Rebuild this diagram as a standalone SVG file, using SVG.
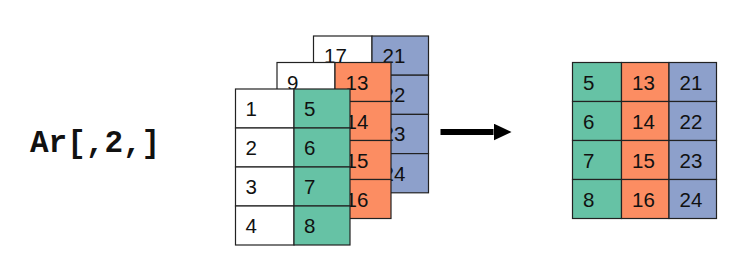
<svg xmlns="http://www.w3.org/2000/svg" width="737" height="256" viewBox="0 0 737 256">
<style>
.c{stroke:#222;stroke-width:1.2}
.w{fill:#ffffff}
.g{fill:#66c2a5}
.o{fill:#fc8d62}
.b{fill:#8da0cb}
.t{font-family:"Liberation Sans",Arial,sans-serif;font-size:20.5px;fill:#111}
.code{font-family:"Liberation Mono","Courier New",monospace;font-size:31px;font-weight:bold;fill:#111}
</style>
<defs>
<marker id="ah" markerUnits="userSpaceOnUse" markerWidth="18" markerHeight="17" refX="0" refY="8.5" orient="auto">
<path d="M0,0 L18,8.5 L0,17 z" fill="#000"/>
</marker>
</defs>
<rect width="737" height="256" fill="#ffffff"/>
<g id="label">
<text class="code" x="30" y="152">Ar[,2,]</text>
</g>
<g id="slice3">
<rect class="c w" x="313.5" y="36" width="58.5" height="39.2"/>
<rect class="c w" x="313.5" y="75.2" width="58.5" height="39.2"/>
<rect class="c w" x="313.5" y="114.4" width="58.5" height="39.2"/>
<rect class="c w" x="313.5" y="153.6" width="58.5" height="39.2"/>
<rect class="c b" x="372" y="36" width="56.5" height="39.2"/>
<rect class="c b" x="372" y="75.2" width="56.5" height="39.2"/>
<rect class="c b" x="372" y="114.4" width="56.5" height="39.2"/>
<rect class="c b" x="372" y="153.6" width="56.5" height="39.2"/>
<text class="t" x="324" y="63">17</text>
<text class="t" x="382.5" y="63">21</text>
<text class="t" x="382.5" y="102.2">22</text>
<text class="t" x="382.5" y="141.4">23</text>
<text class="t" x="382.5" y="180.6">24</text>
</g>
<g id="slice2">
<rect class="c w" x="277" y="62.5" width="58" height="39"/>
<rect class="c w" x="277" y="101.5" width="58" height="39"/>
<rect class="c w" x="277" y="140.5" width="58" height="39"/>
<rect class="c w" x="277" y="179.5" width="58" height="39"/>
<rect class="c o" x="335" y="62.5" width="56" height="39"/>
<rect class="c o" x="335" y="101.5" width="56" height="39"/>
<rect class="c o" x="335" y="140.5" width="56" height="39"/>
<rect class="c o" x="335" y="179.5" width="56" height="39"/>
<text class="t" x="287" y="89.5">9</text>
<text class="t" x="345.5" y="89.5">13</text>
<text class="t" x="345.5" y="128.5">14</text>
<text class="t" x="345.5" y="167.5">15</text>
<text class="t" x="345.5" y="206.5">16</text>
</g>
<g id="slice1">
<rect class="c w" x="235.5" y="89" width="58.5" height="39"/>
<rect class="c w" x="235.5" y="128" width="58.5" height="39"/>
<rect class="c w" x="235.5" y="167" width="58.5" height="39"/>
<rect class="c w" x="235.5" y="206" width="58.5" height="39"/>
<rect class="c g" x="294" y="89" width="56" height="39"/>
<rect class="c g" x="294" y="128" width="56" height="39"/>
<rect class="c g" x="294" y="167" width="56" height="39"/>
<rect class="c g" x="294" y="206" width="56" height="39"/>
<text class="t" x="245.5" y="116">1</text>
<text class="t" x="245.5" y="155">2</text>
<text class="t" x="245.5" y="194">3</text>
<text class="t" x="245.5" y="233">4</text>
<text class="t" x="304" y="116">5</text>
<text class="t" x="304" y="155">6</text>
<text class="t" x="304" y="194">7</text>
<text class="t" x="304" y="233">8</text>
</g>
<g id="connectors">
<line x1="440.5" y1="132" x2="493.5" y2="132" stroke="#000" stroke-width="6" marker-end="url(#ah)"/>
</g>
<g id="result">
<rect class="c g" x="572.5" y="62.5" width="49" height="39"/>
<rect class="c g" x="572.5" y="101.5" width="49" height="39"/>
<rect class="c g" x="572.5" y="140.5" width="49" height="39"/>
<rect class="c g" x="572.5" y="179.5" width="49" height="39"/>
<rect class="c o" x="621.5" y="62.5" width="47.5" height="39"/>
<rect class="c o" x="621.5" y="101.5" width="47.5" height="39"/>
<rect class="c o" x="621.5" y="140.5" width="47.5" height="39"/>
<rect class="c o" x="621.5" y="179.5" width="47.5" height="39"/>
<rect class="c b" x="669" y="62.5" width="47.5" height="39"/>
<rect class="c b" x="669" y="101.5" width="47.5" height="39"/>
<rect class="c b" x="669" y="140.5" width="47.5" height="39"/>
<rect class="c b" x="669" y="179.5" width="47.5" height="39"/>
<text class="t" x="583" y="89.5">5</text>
<text class="t" x="583" y="128.5">6</text>
<text class="t" x="583" y="167.5">7</text>
<text class="t" x="583" y="206.5">8</text>
<text class="t" x="632" y="89.5">13</text>
<text class="t" x="632" y="128.5">14</text>
<text class="t" x="632" y="167.5">15</text>
<text class="t" x="632" y="206.5">16</text>
<text class="t" x="679.5" y="89.5">21</text>
<text class="t" x="679.5" y="128.5">22</text>
<text class="t" x="679.5" y="167.5">23</text>
<text class="t" x="679.5" y="206.5">24</text>
</g>
</svg>
